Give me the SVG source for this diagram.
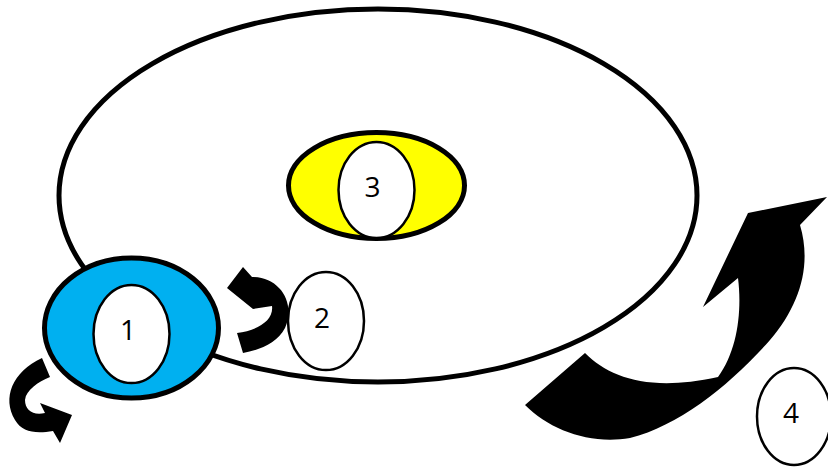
<svg xmlns="http://www.w3.org/2000/svg" width="828" height="468" viewBox="0 0 828 468">
<style>
.lbl{font-family:"Open Sans","DejaVu Sans",sans-serif;font-size:28px;fill:#000;text-anchor:middle}
.inner{fill:#fff;stroke:#000;stroke-width:2.5}
.thick{stroke:#000;stroke-width:5}
.arr{fill:#000;stroke:none}
</style>
<rect width="828" height="468" fill="#fff"/>
<g id="outer">
<ellipse cx="378" cy="195.5" rx="319" ry="186.5" fill="#fff" stroke="#000" stroke-width="5"/>
</g>
<g id="connectors">
<path class="arr" d="M237,333 C256,331 274,321 272,306 L253,309 L227,288 L243,267 L252,277 C280,277 296,303 285,328 C277,343 260,350 243,353 Z"/>
<path class="arr" d="M42,358 C12,372 2,398 15,420 C22,432 35,434 53,431 L60,443 L72,415 L40,403 L45,413 C33,416 25,410 25,400 C26,390 38,382 50,377 Z"/>
<path class="arr" d="M525,405 L585,353 C610,378 650,392 718,377 C738,350 742,310 738,278 L703,307 L748,213 L827,197 L800,225 C812,265 800,305 770,340 C730,385 680,425 630,438 C590,445 550,430 525,405 Z"/>
</g>
<g id="node1">
<ellipse cx="131.5" cy="328" rx="87" ry="70" fill="#00B0F0" class="thick"/>
<ellipse cx="131.5" cy="334" rx="38" ry="49" class="inner"/>
<text x="128" y="340" class="lbl">1</text>
</g>
<g id="node2">
<ellipse cx="326" cy="321" rx="38" ry="49" class="inner"/>
<text x="322" y="328" class="lbl">2</text>
</g>
<g id="node3">
<ellipse cx="376.5" cy="185.5" rx="88" ry="53" fill="#FFFF00" class="thick"/>
<ellipse cx="376.5" cy="190" rx="38" ry="48" class="inner"/>
<text x="372.5" y="197" class="lbl">3</text>
</g>
<g id="node4">
<ellipse cx="794" cy="416.5" rx="37" ry="48.5" class="inner"/>
<text x="791" y="423" class="lbl">4</text>
</g>
</svg>
